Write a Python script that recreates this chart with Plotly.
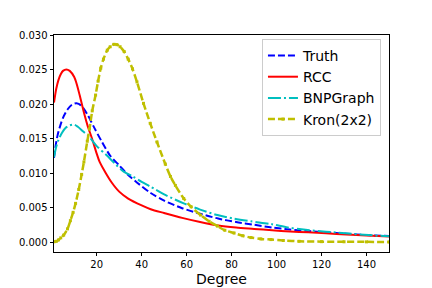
import plotly.graph_objects as go

# ---- data ----
truth_x = [1, 2, 3, 5, 7, 9, 11, 13, 16, 19, 22, 26, 30, 34, 38, 44, 50, 58, 66, 74, 82, 90, 98, 106, 114, 122, 131, 140, 150]
truth_y = [0.0122, 0.0145, 0.0160, 0.0180, 0.0192, 0.0199, 0.0201, 0.0198, 0.0184, 0.0165, 0.0147, 0.0125,
           0.0111, 0.0097, 0.0086, 0.0071, 0.0060, 0.0049, 0.0041, 0.0034, 0.0029, 0.0025, 0.0021, 0.0018,
           0.0016, 0.0014, 0.0012, 0.0010, 0.00087]

rcc_x = [1, 2, 3, 4, 5, 6.5, 8, 10, 11, 12.4, 14.6, 16, 17.9, 20, 21.3, 24, 26.5, 30, 34, 40, 44, 50, 58, 66, 74,
         82, 90, 98, 106, 114, 122, 131, 140, 150]
rcc_y = [0.0202, 0.0222, 0.0235, 0.0243, 0.0248, 0.0250, 0.0248, 0.0239, 0.0230, 0.0213, 0.0184, 0.0168, 0.0150,
         0.0128, 0.0116, 0.0100, 0.0087, 0.0073, 0.0063, 0.0053, 0.00475, 0.0042, 0.0035, 0.0029, 0.0024,
         0.0021, 0.0019, 0.0017, 0.00153, 0.0014, 0.00125, 0.0011, 0.00095, 0.00078]

bnp_x = [1, 2, 3, 4.5, 6, 8, 10, 11.6, 14, 16.8, 20, 24.3, 28, 32, 36, 40, 44, 50, 58.7, 66, 73.7, 81, 88.6, 97.5,
         105, 112, 122, 132, 141, 150]
bnp_y = [0.0123, 0.0138, 0.0148, 0.0158, 0.0165, 0.0169, 0.0170, 0.0167, 0.0160, 0.0152, 0.0139, 0.0126, 0.0114,
         0.0102, 0.0095, 0.0087, 0.0080, 0.0069, 0.0056, 0.0047, 0.0039, 0.0034, 0.0030, 0.0026, 0.0021,
         0.0018, 0.0015, 0.00122, 0.0010, 0.00083]

kron_x = [1, 2, 3, 4, 5.3, 7, 8.3, 9.5, 10.6, 12, 13.3, 14.3, 15.8, 16.8, 18, 19.5, 20.6, 21.8, 23, 24.7, 26, 27.7,
          29, 30.4, 32.2, 34, 35.9, 37.9, 40.8, 43.8, 46.8, 50.5, 52.8, 55, 58.7, 62,
          66.2, 70, 73.7, 77, 81.1, 85, 88.6, 93, 97.5, 103, 110, 120, 130, 140, 150]
kron_y = [0.00002, 0.0001, 0.0003, 0.0006, 0.0010, 0.0019, 0.0031, 0.0043, 0.0056, 0.0076, 0.0098, 0.0116,
          0.0146, 0.0164, 0.0190, 0.0213, 0.0233, 0.0252, 0.0265, 0.0278, 0.0283, 0.02865, 0.0286, 0.0283,
          0.0276, 0.0265, 0.0251, 0.0232, 0.0201, 0.0172, 0.0145, 0.0113,
          0.0095, 0.0082, 0.0063, 0.0051, 0.0039, 0.0030, 0.0023, 0.0017, 0.0013, 0.0009, 0.00064, 0.00045,
          0.00035, 0.00022, 0.0001, 0.00005, 0.00003, 0.00002, 0.00001]

x_ticks = [20, 40, 60, 80, 100, 120, 140]
y_ticks = [0.000, 0.005, 0.010, 0.015, 0.020, 0.025, 0.030]

FONT = "DejaVu Sans"

fig = go.Figure()
fig.add_trace(go.Scatter(x=truth_x, y=truth_y, name="Truth", mode="lines", legendgroup="a",
                         line=dict(color="#0000ff", width=2, dash="7px,3px", shape="spline", smoothing=0.8)))
fig.add_trace(go.Scatter(x=rcc_x, y=rcc_y, name="RCC", mode="lines", legendgroup="b",
                         line=dict(color="#ff0000", width=2, shape="spline", smoothing=0.8)))
fig.add_trace(go.Scatter(x=bnp_x, y=bnp_y, name="BNPGraph", mode="lines", legendgroup="c",
                         line=dict(color="#00bfbf", width=2, dash="13px,3px,2px,3px", shape="spline", smoothing=0.8)))
fig.add_trace(go.Scatter(x=kron_x, y=kron_y, name="Kron(2x2)", mode="lines+markers", legendgroup="d",
                         line=dict(color="#bfbf00", width=2.5, dash="7px,3px", shape="spline", smoothing=0.8),
                         marker=dict(color="#bfbf00", size=3, symbol="square")))

# page body has an 8px margin, so the figure is 424x280 placed at (8, 8)
fig.update_layout(
    width=424, height=280,
    margin=dict(l=46, r=43, t=27, b=36),
    paper_bgcolor="white", plot_bgcolor="white",
    font=dict(family=FONT, size=10, color="black"),
    legend=dict(x=0.976, y=0.982, xanchor="right", yanchor="top",
                bgcolor="rgba(255,255,255,0.8)", bordercolor="#cccccc", borderwidth=1,
                font=dict(family=FONT, size=14, color="black"), tracegroupgap=0),
    showlegend=True,
)
fig.update_xaxes(range=[1, 150], tickvals=x_ticks, ticks="outside", ticklen=3.5, tickwidth=0.8,
                 tickcolor="black", showline=True, linecolor="black", linewidth=0.8, mirror=True,
                 showgrid=False, zeroline=False, automargin=False,
                 title=dict(text="Degree", font=dict(family=FONT, size=14), standoff=4))
fig.update_yaxes(range=[-0.00145, 0.0300], tickvals=y_ticks, tickformat=".3f", ticks="outside", ticklen=3.5,
                 tickwidth=0.8, tickcolor="black", showline=True, linecolor="black", linewidth=0.8,
                 mirror=True, showgrid=False, zeroline=False, automargin=False)

fig.write_html("out.html")
